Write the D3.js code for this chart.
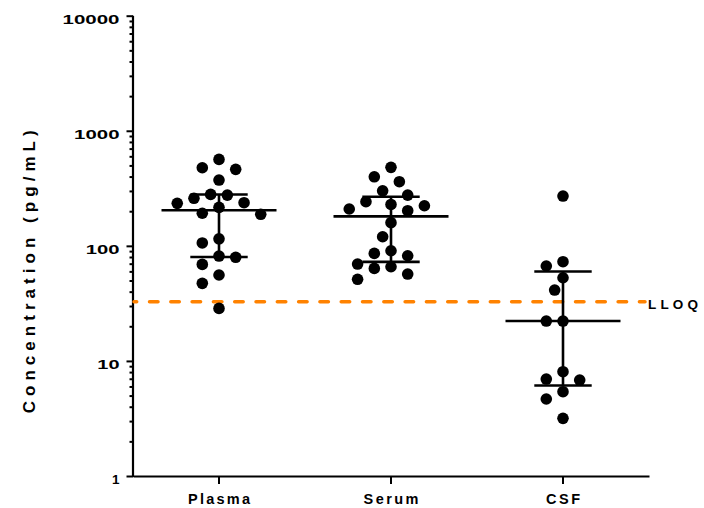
<!DOCTYPE html>
<html>
<head>
<meta charset="utf-8">
<script src="https://cdn.jsdelivr.net/npm/d3@7"></script>
<style>
  body { margin: 0; background: #fff; }
  text { font-family: "Liberation Sans", Arial, sans-serif; font-weight: bold; fill: #000; }
</style>
</head>
<body>
<svg id="chart" width="704" height="508"></svg>
<script>
let groups = ['Plasma', 'Serum', 'CSF'];

let plasma = [564, 477, 462, 373, 280, 276, 259, 237, 234, 216,
              192, 188, 115, 106, 81.5, 79.5, 69, 55.8, 47.2, 28.6];
let serum = [481, 398, 361, 301, 276, 242, 229, 223, 209, 202,
             159, 120, 90.7, 86, 82, 69.5, 65.8, 63.7, 56.9, 51.2];
let csf = [271, 72.8, 66.8, 52.8, 41.3, 22.2, 22.2, 8.06, 6.96, 6.82, 5.40, 4.67, 3.17];

let lloq = 32.7;
let lloqLabel = 'LLOQ';
let yTicks = [1, 10, 100, 1000, 10000];
let yLabel = 'Concentration (pg/mL)';

let series = [plasma, serum, csf];

let svg = d3.select('#chart');

let x = d3.scaleBand().domain(groups).range([133, 649]);
let y = d3.scaleLog().domain([1, 10000]).range([476, 15.7]);

let minor = [];
for (let d of yTicks.slice(0, -1)) {
  for (let k = 2; k < 10; k++) minor.push(d * k);
}

// quartiles the way Prism does them ((n+1)p)
function quant(vals, p) {
  let s = vals.slice().sort((a, b) => a - b);
  let h = (s.length + 1) * p - 1;
  let lo = Math.floor(h);
  if (lo < 0) return s[0];
  if (lo >= s.length - 1) return s[s.length - 1];
  return s[lo] + (h - lo) * (s[lo + 1] - s[lo]);
}

let r = 5.8;
let step = 8.35;
let gap = 14.6;

function swarm(vals, cx) {
  let placed = [];
  let sorted = vals.slice().sort((a, b) => b - a);
  for (let v of sorted) {
    let py = y(v);
    for (let i = 0; i < 40; i++) {
      let k = i === 0 ? 0 : (i % 2 ? -Math.ceil(i / 2) : i / 2);
      let px = cx + k * step;
      let ok = placed.every(p => Math.hypot(p.x - px, p.y - py) >= gap);
      if (ok) { placed.push({x: px, y: py, v: v}); break; }
    }
  }
  return placed;
}

// y axis
let yMinor = d3.axisLeft(y).tickValues(minor).tickFormat('').tickSize(3.5).tickSizeOuter(0);
let yMajor = d3.axisLeft(y).tickValues(yTicks).tickFormat(d3.format('d')).tickSize(6.5).tickSizeOuter(0).tickPadding(7);

let gy = svg.append('g').attr('transform', 'translate(133,0)');
gy.append('g').call(yMinor);
gy.append('g').call(yMajor);
gy.selectAll('.domain').remove();
gy.selectAll('line').attr('stroke', '#000').attr('stroke-width', 2);
gy.selectAll('.tick text')
  .style('font-size', '13.5px')
  .attr('dy', '0.55em')
  .attr('y', 0)
  .each(function() {
    let n = this.textContent.length;
    if (n > 1) d3.select(this).attr('textLength', 11.6 * n - 1).attr('lengthAdjust', 'spacingAndGlyphs');
  });
gy.append('line')
  .attr('x1', 0).attr('x2', 0)
  .attr('y1', y(10000)).attr('y2', y(1) + 1)
  .attr('stroke', '#000').attr('stroke-width', 2.2);

// x axis
let xAxis = d3.axisBottom(x).tickSize(8).tickSizeOuter(0);
let gx = svg.append('g').attr('transform', `translate(0,${y(1)})`).call(xAxis);
gx.select('.domain').attr('stroke', '#000').attr('stroke-width', 2.2);
gx.selectAll('.tick line').attr('stroke', '#000').attr('stroke-width', 2);
let xLen = {Plasma: 62, Serum: 55, CSF: 34};
gx.selectAll('.tick text')
  .style('font-size', '14.5px')
  .attr('y', 28)
  .attr('dy', 0)
  .attr('textLength', d => xLen[d])
  .attr('lengthAdjust', 'spacing');

// y label
svg.append('text')
  .attr('transform', `translate(35,${(y(1) + y(10000)) / 2 + 26}) rotate(-90)`)
  .attr('text-anchor', 'middle')
  .style('font-size', '17px')
  .attr('textLength', 283)
  .attr('lengthAdjust', 'spacing')
  .text(yLabel);

// LLOQ
svg.append('line')
  .attr('x1', 134).attr('x2', 645)
  .attr('y1', y(lloq)).attr('y2', y(lloq))
  .attr('stroke', '#FF8200')
  .attr('stroke-width', 3.5)
  .attr('stroke-linecap', 'round')
  .attr('stroke-dasharray', '8.5 12.8')
  .attr('stroke-dashoffset', 5.8);

svg.append('text')
  .attr('x', 648)
  .attr('y', y(lloq) + 7)
  .style('font-size', '13.5px')
  .attr('textLength', 50)
  .attr('lengthAdjust', 'spacing')
  .text(lloqLabel);

// points + median/IQR bars
groups.forEach((g, i) => {
  let vals = series[i];
  let cx = x(g) + x.bandwidth() / 2;
  let pts = swarm(vals, cx);

  let layer = svg.append('g').attr('class', 'group');
  layer.selectAll('circle')
    .data(pts)
    .enter().append('circle')
      .attr('cx', d => d.x)
      .attr('cy', d => d.y)
      .attr('r', r)
      .attr('fill', '#000');

  let med = quant(vals, 0.5), q1 = quant(vals, 0.25), q3 = quant(vals, 0.75);

  layer.append('line')
    .attr('x1', cx).attr('x2', cx)
    .attr('y1', y(q3)).attr('y2', y(q1))
    .attr('stroke', '#000').attr('stroke-width', 2.6);

  [[q3, 28.7], [q1, 28.7], [med, 57.5]].forEach(([v, hw]) => {
    layer.append('line')
      .attr('x1', cx - hw).attr('x2', cx + hw)
      .attr('y1', y(v)).attr('y2', y(v))
      .attr('stroke', '#000').attr('stroke-width', 2.6);
  });
});
</script>
</body>
</html>
